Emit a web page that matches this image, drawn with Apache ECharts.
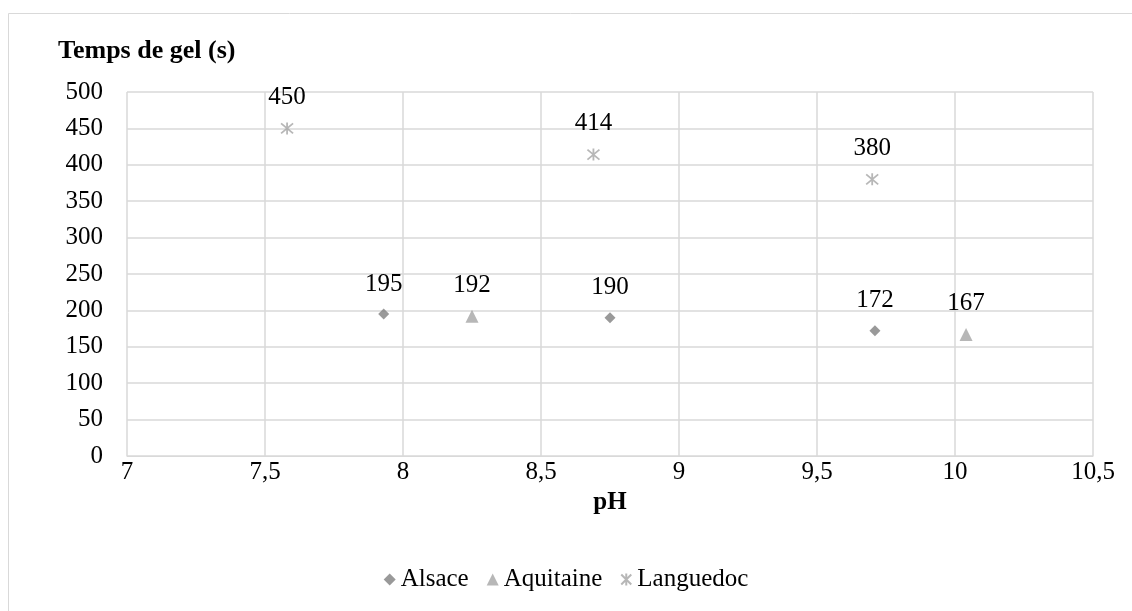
<!DOCTYPE html>
<html>
<head>
<meta charset="utf-8">
<script src="https://cdn.jsdelivr.net/npm/echarts@6/dist/echarts.min.js"></script>
<style>
  html, body { margin: 0; padding: 0; background: #fff; }
  #main { width: 1132px; height: 611px; }
</style>
</head>
<body>
<div id="main"></div>
<script>
var chartDom = document.getElementById('main');
var myChart = echarts.init(chartDom);
var option;

// pH, temps de gel (s)
var alsace = [[7.93, 195], [8.75, 190], [9.71, 172]];
var aquitaine = [[8.25, 192], [10.04, 167]];
var languedoc = [[7.58, 450], [8.69, 414], [9.70, 380]];

var font = 'Liberation Serif';
var star = 'path://M0,1L10,11M10,1L0,11M5,0L5,12';

function labelStyle() {
  return {
    show: true,
    position: 'top',
    distance: 12,
    fontFamily: font,
    fontSize: 25,
    color: '#000',
    opacity: 1,
    textBorderWidth: 0,
    formatter: function (p) { return p.value[1]; }
  };
}

option = {
  animation: false,
  backgroundColor: '#fff',
  textStyle: { fontFamily: font, color: '#000' },
  graphic: [
    {
      type: 'rect',
      shape: { x: 8.5, y: 13.5, width: 1130, height: 610 },
      style: { fill: 'none', stroke: '#d9d9d9', lineWidth: 1 }
    },
    {
      type: 'text',
      left: 58,
      top: 38,
      style: {
        text: 'Temps de gel (s)',
        fontFamily: font,
        fontWeight: 'bold',
        fontSize: 26,
        fill: '#000'
      }
    }
  ],
  grid: { left: 127, right: 39, top: 92, bottom: 155 },
  legend: {
    bottom: 14,
    left: 'center',
    itemWidth: 12,
    itemHeight: 12,
    itemGap: 18,
    textStyle: { fontFamily: font, fontSize: 25, color: '#000' },
    data: ['Alsace', 'Aquitaine', 'Languedoc']
  },
  xAxis: {
    type: 'value',
    min: 7,
    max: 10.5,
    interval: 0.5,
    name: 'pH',
    nameLocation: 'middle',
    nameGap: 33,
    nameTextStyle: { fontFamily: font, fontWeight: 'bold', fontSize: 25, color: '#000' },
    axisLine: { show: true, lineStyle: { color: '#d9d9d9' } },
    axisTick: { show: false },
    axisLabel: {
      fontFamily: font, fontSize: 25, color: '#000', margin: 4,
      formatter: function (v) { return String(v).replace('.', ','); }
    },
    splitLine: { show: true, lineStyle: { color: '#d9d9d9', width: 1.5 } }
  },
  yAxis: {
    type: 'value',
    min: 0,
    max: 500,
    interval: 50,
    axisLine: { show: false },
    axisTick: { show: false },
    axisLabel: { fontFamily: font, fontSize: 25, color: '#000', margin: 24 },
    splitLine: { show: true, lineStyle: { color: '#d9d9d9', width: 1.5 } }
  },
  series: [
    {
      name: 'Alsace',
      type: 'scatter',
      data: alsace,
      symbol: 'diamond',
      symbolSize: 11,
      itemStyle: { color: '#7f7f7f' },
      label: labelStyle()
    },
    {
      name: 'Aquitaine',
      type: 'scatter',
      data: aquitaine,
      symbol: 'triangle',
      symbolSize: 13,
      itemStyle: { color: '#a5a5a5' },
      label: labelStyle()
    },
    {
      name: 'Languedoc',
      type: 'scatter',
      data: languedoc,
      symbol: star,
      symbolSize: 12,
      itemStyle: { color: '#a5a5a5', borderColor: '#a5a5a5', borderWidth: 1.8 },
      label: labelStyle()
    }
  ]
};

option && myChart.setOption(option);
</script>
</body>
</html>
